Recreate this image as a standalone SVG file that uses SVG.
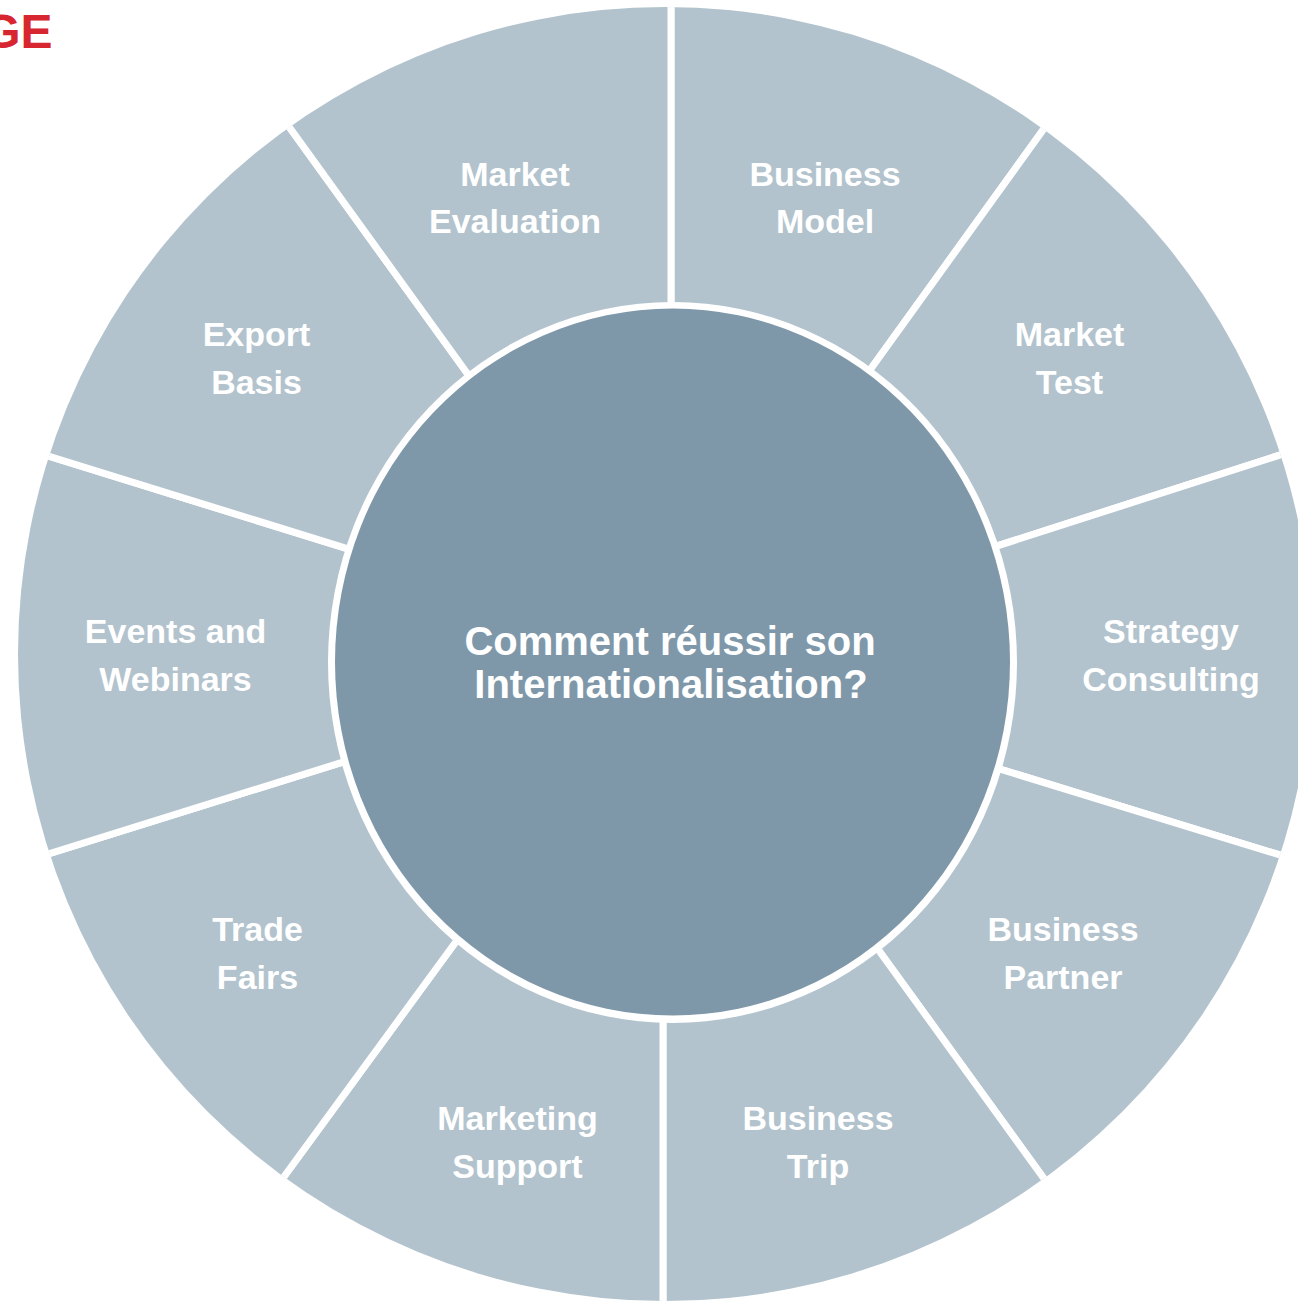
<svg xmlns="http://www.w3.org/2000/svg" width="1298" height="1301" viewBox="0 0 1298 1301">
  <style>
    .seg { fill: #b2c3cd; stroke: #ffffff; stroke-width: 7; stroke-linejoin: miter; }
    .lbl { font-family: "Liberation Sans", Arial, sans-serif; font-weight: bold; font-size: 34px; fill: #ffffff; text-anchor: middle; }
    .hub { font-family: "Liberation Sans", Arial, sans-serif; font-weight: bold; font-size: 40px; fill: #ffffff; text-anchor: middle; }
    .head { font-family: "Liberation Sans", Arial, sans-serif; font-weight: bold; font-size: 48px; fill: #d7262f; text-anchor: end; }
  </style>
  <defs>
    <clipPath id="ring-clip">
      <circle cx="665" cy="654" r="647"/>
    </clipPath>
  </defs>

  <rect x="0" y="0" width="1298" height="1301" fill="#ffffff"/>

  <text class="head" x="52.5" y="48">GE</text>

  <!-- outer ring: ten wedges, white strokes form the gaps between them -->
  <g id="segments" clip-path="url(#ring-clip)">
    <g id="seg-business-model">
      <path class="seg" d="M671,330 L671,-142 L1130.7,8.3 L855.4,390.3 Z"/>
      <text class="lbl" x="825" y="186">Business</text>
      <text class="lbl" x="825" y="233">Model</text>
    </g>
    <g id="seg-market-test">
      <path class="seg" d="M855.4,390.3 L1130.7,8.3 L1422.8,409.1 L976.2,552.7 Z"/>
      <text class="lbl" x="1069.5" y="346">Market</text>
      <text class="lbl" x="1069.5" y="394">Test</text>
    </g>
    <g id="seg-strategy-consulting">
      <path class="seg" d="M976.2,552.7 L1422.8,409.1 L1423.4,899 L979.1,762.7 Z"/>
      <text class="lbl" x="1171" y="643">Strategy</text>
      <text class="lbl" x="1171" y="691">Consulting</text>
    </g>
    <g id="seg-business-partner">
      <path class="seg" d="M979.1,762.7 L1423.4,899 L1132.9,1301.5 L865.3,931.7 Z"/>
      <text class="lbl" x="1063" y="941">Business</text>
      <text class="lbl" x="1063" y="989">Partner</text>
    </g>
    <g id="seg-business-trip">
      <path class="seg" d="M865.3,931.7 L1132.9,1301.5 L663,1451 L663,997 Z"/>
      <text class="lbl" x="818" y="1130">Business</text>
      <text class="lbl" x="818" y="1178">Trip</text>
    </g>
    <g id="seg-marketing-support">
      <path class="seg" d="M663,997 L663,1451 L194.4,1299 L469.8,922.8 Z"/>
      <text class="lbl" x="517.5" y="1130">Marketing</text>
      <text class="lbl" x="517.5" y="1178">Support</text>
    </g>
    <g id="seg-trade-fairs">
      <path class="seg" d="M469.8,922.8 L194.4,1299 L-98.2,899.7 L366.9,754.6 Z"/>
      <text class="lbl" x="257.5" y="941">Trade</text>
      <text class="lbl" x="257.5" y="989">Fairs</text>
    </g>
    <g id="seg-events-webinars">
      <path class="seg" d="M366.9,754.6 L-98.2,899.7 L-98.3,410.6 L368.9,555.4 Z"/>
      <text class="lbl" x="175.5" y="643">Events and</text>
      <text class="lbl" x="175.5" y="691">Webinars</text>
    </g>
    <g id="seg-export-basis">
      <path class="seg" d="M368.9,555.4 L-98.3,410.6 L202.1,6.4 L481.6,393.3 Z"/>
      <text class="lbl" x="256.5" y="346">Export</text>
      <text class="lbl" x="256.5" y="394">Basis</text>
    </g>
    <g id="seg-market-evaluation">
      <path class="seg" d="M481.6,393.3 L202.1,6.4 L671,-142 L671,330 Z"/>
      <text class="lbl" x="515" y="186">Market</text>
      <text class="lbl" x="515" y="233">Evaluation</text>
    </g>
  </g>

  <!-- central hub with its white rim -->
  <g id="hub">
    <ellipse cx="672.5" cy="662.5" rx="344.5" ry="360.5" fill="#ffffff"/>
    <ellipse cx="672.5" cy="662" rx="337.5" ry="353.5" fill="#7e98aa"/>
    <text class="hub" x="670" y="655">Comment réussir son</text>
    <text class="hub" x="671" y="698">Internationalisation?</text>
  </g>
</svg>
